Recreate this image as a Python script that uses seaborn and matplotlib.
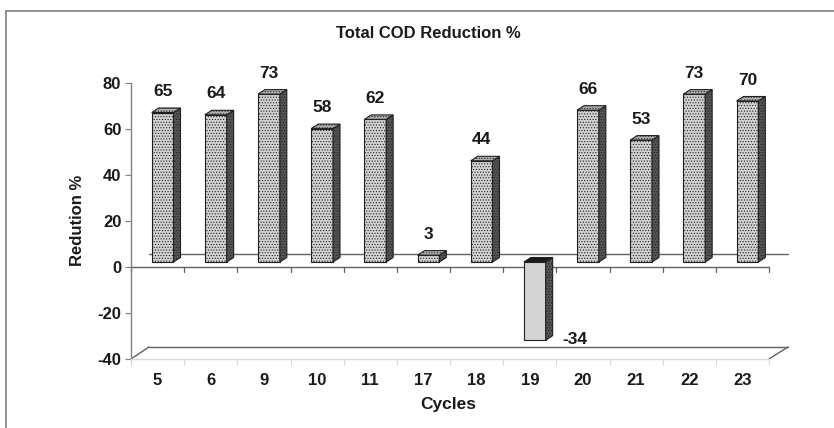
import matplotlib
matplotlib.use("Agg")
import matplotlib.pyplot as plt
import seaborn as sns
import numpy as np
import pandas as pd
from matplotlib.patches import Polygon
from matplotlib.transforms import offset_copy
from matplotlib.ticker import FixedLocator

cycles = ["5", "6", "9", "10", "11", "17", "18", "19", "20", "21", "22", "23"]
reduction = [65, 64, 73, 58, 62, 3, 44, -34, 66, 53, 73, 70]
yticks = [-40, -20, 0, 20, 40, 60, 80]

sns.set_theme(style="white")
plt.rcParams['font.family'] = ['Liberation Sans', 'DejaVu Sans']
plt.rcParams['hatch.linewidth'] = 0.5

W, H = 834, 428
fig = plt.figure(figsize=(W / 100, H / 100), dpi=100)
ax = fig.add_axes([131 / W, (H - 359) / H, (769 - 131) / W, (359 - 83) / H])
ax.set_xlim(-0.5, len(cycles) - 0.5)
ax.set_ylim(-40, 80)

df = pd.DataFrame({"Cycles": cycles, "Reduction": reduction})

FX, FY = 5, 5
DX, DY = 7, 4.5
BW = 0.41

def off(x, y, dx, dy):
    p = ax.transData.transform((x, y)) + np.array([dx, dy])
    return ax.transData.inverted().transform(p)

def set_hc(artist, c):
    try:
        artist.set_hatchcolor(c)
    except Exception:
        pass

lc = "#606060"
for (x0, y0, x1, y1, dxa, dya, dxb, dyb) in [
    (-0.5, 0, 11.5, 0, 18, 13, 19, 13),
    (-0.5, -40, 11.5, -40, 18, 12, 19, 12),
    (-0.5, -40, -0.5, -40, 0, 0, 18, 12),
    (11.5, -40, 11.5, -40, 0, 0, 19, 12),
]:
    a = off(x0, y0, dxa, dya)
    b = off(x1, y1, dxb, dyb)
    ax.plot([a[0], b[0]], [a[1], b[1]], color=lc, lw=1.0, zorder=1, clip_on=False)

ax.plot([-0.5, 11.5], [0, 0], color=lc, lw=1.0, zorder=1, clip_on=False)
for i in range(len(cycles) + 1):
    xb = i - 0.5
    a = off(xb, 0, 0, -5)
    ax.plot([xb, xb], [0, a[1]], color=lc, lw=0.9, zorder=1, clip_on=False)

sns.barplot(data=df, x="Cycles", y="Reduction", order=cycles, width=BW,
            color="#d2d2d2", saturation=1, ax=ax, zorder=3)
tr = offset_copy(ax.transData, fig=fig, x=FX, y=FY, units='dots')
bars = list(ax.patches)
for p, v in zip(bars, reduction):
    p.set_transform(tr)
    p.set_edgecolor("#202020")
    p.set_linewidth(0.8)
    if v < 0:
        p.set_facecolor("#d4d4d4")
    else:
        p.set_hatch("......")
        set_hc(p, "#9a9a9a")

ax.set_xlim(-0.5, len(cycles) - 0.5)
ax.set_ylim(-40, 80)

for p, v in zip(bars, reduction):
    x0 = p.get_x()
    x1 = x0 + p.get_width()
    y0 = min(0, v)
    y1 = max(0, v)
    side = [off(x1, y0, FX, FY), off(x1, y1, FX, FY),
            off(x1, y1, FX + DX, FY + DY), off(x1, y0, FX + DX, FY + DY)]
    top = [off(x0, y1, FX, FY), off(x1, y1, FX, FY),
           off(x1, y1, FX + DX, FY + DY), off(x0, y1, FX + DX, FY + DY)]
    sp = Polygon(side, closed=True, facecolor="#555555", edgecolor="#202020",
                 lw=0.8, hatch="......", zorder=3, clip_on=False)
    set_hc(sp, "#2a2a2a")
    ax.add_patch(sp)
    tp = Polygon(top, closed=True,
                 facecolor=("#1a1a1a" if v < 0 else "#b0b0b0"),
                 edgecolor="#202020", lw=0.8,
                 hatch=(None if v < 0 else "......"), zorder=4, clip_on=False)
    set_hc(tp, "#707070")
    ax.add_patch(tp)
    xc = x0 + p.get_width() / 2
    if v >= 0:
        pt = off(xc, v, FX, FY + 21)
        ax.text(pt[0], pt[1], f"{v}", ha="center", va="center",
                fontsize=12.5, fontweight="bold", color="#1a1a1a", zorder=5)
    else:
        pt = off(x1, v, FX + 17, FY + 1)
        ax.text(pt[0], pt[1], f"{v}", ha="left", va="center",
                fontsize=12.5, fontweight="bold", color="#1a1a1a", zorder=5)

for s in ["top", "right"]:
    ax.spines[s].set_visible(False)
ax.spines["left"].set_color("#808080")
ax.spines["left"].set_linewidth(1.0)
ax.spines["bottom"].set_color("#d8d8d8")
ax.spines["bottom"].set_linewidth(1.0)
ax.set_yticks(yticks)
ax.set_yticklabels([str(t) for t in yticks])
ax.tick_params(axis="y", direction="out", length=4, width=0.8, color="#808080",
               labelsize=12, pad=3, left=True)
ax.set_xticks(range(len(cycles)))
ax.set_xticklabels(cycles)
ax.xaxis.set_minor_locator(FixedLocator([i - 0.5 for i in range(len(cycles) + 1)]))
ax.tick_params(axis="x", which="major", length=0, labelsize=12, pad=10, bottom=True)
ax.tick_params(axis="x", which="minor", length=4, color="#d8d8d8", width=0.8,
               direction="out", bottom=True)
for lab in ax.get_xticklabels() + ax.get_yticklabels():
    lab.set_fontweight("bold")
    lab.set_color("#1a1a1a")
ax.set_xlabel("")
ax.set_ylabel("")
ax.grid(False)
ax.set_facecolor("none")

fig.text(448 / W, 1 - 404 / H, "Cycles", ha="center", va="center",
         fontsize=12.5, fontweight="bold", color="#1a1a1a")
fig.text(77 / W, 1 - 220 / H, "Redution %", ha="center", va="center", rotation=90,
         fontsize=12, fontweight="bold", color="#1a1a1a")
fig.text(428 / W, 1 - 33 / H, "Total COD Reduction %", ha="center", va="center",
         fontsize=12, fontweight="bold", color="#1a1a1a")

fig.add_artist(plt.Line2D([6 / W, 1.0], [1 - 11 / H, 1 - 11 / H], transform=fig.transFigure,
                          color="#808080", lw=1.2))
fig.add_artist(plt.Line2D([6 / W, 6 / W], [0, 1 - 11 / H], transform=fig.transFigure,
                          color="#808080", lw=1.2))

fig.savefig("out.png", dpi=100)
